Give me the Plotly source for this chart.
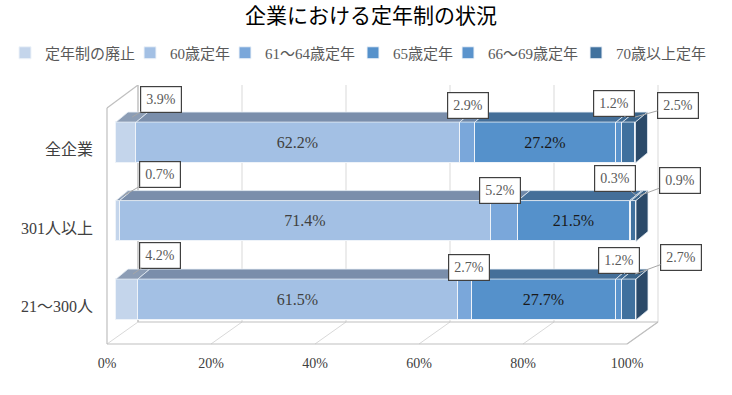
import numpy as np
import plotly.graph_objects as go

# ---------------- data ----------------
categories = ["全企業", "301人以上", "21～300人"]
series_names = ["定年制の廃止", "60歳定年", "61～64歳定年", "65歳定年", "66～69歳定年", "70歳以上定年"]
abolished = [3.9, 0.7, 4.2]
age60 = [62.2, 71.4, 61.5]
age61_64 = [2.9, 5.2, 2.7]
age65 = [27.2, 21.5, 27.7]
age66_69 = [1.2, 0.3, 1.2]
age70plus = [2.5, 0.9, 2.7]
x_ticks = [0, 20, 40, 60, 80, 100]
title_text = "企業における定年制の状況"

series_values = [abolished, age60, age61_64, age65, age66_69, age70plus]

# ---------------- styles ----------------
FONT = "Liberation Serif, 'Noto Sans CJK JP', serif"
front_colors = ["#c4d5eb", "#a3c0e4", "#7aa7da", "#5591cb", "#5a93cc", "#40719e"]
top_colors = ["#8c9db5", "#7a8eab", "#6d87a8", "#446f99", "#3f6a93", "#3b6489"]
side_color = "#2b4a69"
inside_label_colors = [None, "#404040", None, "#1a1a1a", None, None]

# legend entry text start (px) for each series, single row
legend_text_px = [45, 170, 265, 393, 488, 616]
LEGEND_Y_PX = 53

# geometry (pixel scales of the plot area)
PX_X = 5.2        # px per percent on bar front face
PX_Y = 78.5       # px per category step
BAR_W = 0.52      # bar thickness in category units
BAR_DX = 12 / PX_X
BAR_DY = 10 / PX_Y
FRAME_DX = 31 / PX_X
FRAME_DY = 22 / PX_Y
FLOOR_SHIFT = 9 / PX_X   # front floor 0% sits left of bar 0%
LABEL_SHIFT = 7.0 / PX_Y

# callout offsets (pixels) for the small segments: (series index) -> per category (ax, ay)
callout_series = [0, 2, 4, 5]
callout_offsets = {
    0: [(29, -18), (36, -21), (27, -19)],
    2: [(-5, -12), (-10, -5), (-2, -7)],
    4: [(-11, -14), (-22, -17), (-6, -14)],
    5: [(43, -12), (40, -15), (46, -17)],
}

ML, MR, MT, MB = 100, 32, 85, 50
W, H = 732, 395
plot_w = W - ML - MR
plot_h = H - MT - MB

n = len(categories)
ypos = np.arange(n)[::-1].astype(float)  # top category first
vals = np.array(series_values, dtype=float)  # (series, cat)
cum = np.vstack([np.zeros(n), np.cumsum(vals, axis=0)])  # (series+1, cat)

x_range = [(ML - 116) / PX_X, (ML - 116) / PX_X + plot_w / PX_X]
y_center_top_px = 142.5  # pixel of top category center (absolute)
y_top = (n - 1) + (y_center_top_px - MT) / PX_Y
y_range = [y_top - plot_h / PX_Y, y_top]

fig = go.Figure()

# top faces
for s in range(len(series_names)):
    xs, ys = [], []
    for c in range(n):
        x0, x1 = cum[s, c], cum[s + 1, c]
        yt = ypos[c] + BAR_W / 2
        xs += [x0, x1, x1 + BAR_DX, x0 + BAR_DX, x0, None]
        ys += [yt, yt, yt + BAR_DY, yt + BAR_DY, yt, None]
    fig.add_trace(go.Scatter(x=xs, y=ys, mode="lines", fill="toself",
                             fillcolor=top_colors[s], line=dict(color="#e6edf5", width=0.8),
                             showlegend=False, hoverinfo="skip"))

# right side faces
xs, ys = [], []
for c in range(n):
    xe = cum[-1, c]
    yb, yt = ypos[c] - BAR_W / 2, ypos[c] + BAR_W / 2
    xs += [xe, xe, xe + BAR_DX, xe + BAR_DX, xe, None]
    ys += [yb, yt, yt + BAR_DY, yb + BAR_DY, yb, None]
fig.add_trace(go.Scatter(x=xs, y=ys, mode="lines", fill="toself", fillcolor=side_color,
                         line=dict(color="#e6edf5", width=0.8), showlegend=False, hoverinfo="skip"))

# front faces (each series gets its own single-entry legend so the row never wraps)
legend_layouts = {}
for s, name in enumerate(series_names):
    texts = [f"{v:.1f}%" if v >= 10 else "" for v in vals[s]]
    lg = "legend" if s == 0 else f"legend{s + 1}"
    fig.add_trace(go.Bar(
        y=ypos, x=vals[s], orientation="h", name=name, width=BAR_W, legend=lg,
        marker=dict(color=front_colors[s], line=dict(color="#eef3f9", width=1)),
        text=texts, textposition="inside", insidetextanchor="middle",
        textfont=dict(family=FONT, size=16, color=inside_label_colors[s] or "#404040"),
        hoverinfo="skip", constraintext="none",
    ))
    legend_layouts[lg] = dict(
        orientation="h", xref="container", x=(legend_text_px[s] - 40) / W, xanchor="left",
        yref="container", y=1 - LEGEND_Y_PX / H, yanchor="middle",
        font=dict(family=FONT, size=15, color="#595959"), itemwidth=30, borderwidth=0,
        bgcolor="rgba(0,0,0,0)",
    )

# dummy trace to anchor the overlay axes
fig.add_trace(go.Scatter(x=[None], y=[None], xaxis="x2", yaxis="y2", showlegend=False, hoverinfo="skip"))

# 3D frame (floor, walls, gridlines) in x2 / y units
y_ff = -(344 - (y_center_top_px + (n - 1) * PX_Y)) / PX_Y
y_bf = y_ff + FRAME_DY
y_wall_front_top = (n - 1) + (y_center_top_px - 108) / PX_Y
shapes = []
grid_col, edge_col = "#d9d9d9", "#bfbfbf"
for t in x_ticks:
    shapes.append(dict(type="line", xref="x2", yref="y", x0=t, y0=y_ff, x1=t + FRAME_DX, y1=y_bf,
                       line=dict(color=grid_col, width=1), layer="below"))
    shapes.append(dict(type="line", xref="x2", yref="y", x0=t + FRAME_DX, y0=y_bf, x1=t + FRAME_DX, y1=y_top,
                       line=dict(color=grid_col, width=1), layer="below"))
x_lo, x_hi = x_ticks[0], x_ticks[-1]
frame_lines = [
    (x_lo, y_ff, x_hi, y_ff),
    (x_lo + FRAME_DX, y_bf, x_hi + FRAME_DX, y_bf),
    (x_lo, y_ff, x_lo, y_wall_front_top),
    (x_lo, y_wall_front_top, x_lo + FRAME_DX, y_top),
    (x_lo + FRAME_DX, y_bf, x_lo + FRAME_DX, y_top),
    (x_hi, y_ff, x_hi + FRAME_DX, y_bf),
]
for x0, y0, x1, y1 in frame_lines:
    shapes.append(dict(type="line", xref="x2", yref="y", x0=x0, y0=y0, x1=x1, y1=y1,
                       line=dict(color=edge_col, width=1.2), layer="below"))

# callout annotations
annotations = []
for s in callout_series:
    for c in range(n):
        xc = cum[s, c] + vals[s, c] / 2 + BAR_DX / 2
        yc = ypos[c] + BAR_W / 2 + BAR_DY / 2
        ax, ay = callout_offsets[s][c]
        annotations.append(dict(
            x=xc, y=yc, xref="x", yref="y", ax=ax, ay=ay,
            text=f"{vals[s, c]:.1f}%", showarrow=True, arrowhead=0, arrowwidth=1,
            arrowcolor="#a6a6a6", bgcolor="white", bordercolor="#404040", borderwidth=1.2,
            borderpad=5, font=dict(family=FONT, size=14, color="#595959"),
        ))

fig.update_layout(
    width=W, height=H,
    margin=dict(l=ML, r=MR, t=MT, b=MB),
    paper_bgcolor="white", plot_bgcolor="white",
    barmode="stack", bargap=0,
    font=dict(family=FONT, color="#404040"),
    title=dict(text=title_text, x=371 / W, xanchor="center", y=1 - 16 / H, yanchor="middle",
               font=dict(family=FONT, size=21, color="#000000")),
    xaxis=dict(range=x_range, visible=False, fixedrange=True),
    yaxis=dict(range=y_range, visible=False, fixedrange=True),
    xaxis2=dict(range=[x_range[0] + FLOOR_SHIFT, x_range[1] + FLOOR_SHIFT], overlaying="x", anchor="y2",
                side="bottom", tickvals=x_ticks, ticktext=[f"{t}%" for t in x_ticks],
                showgrid=False, zeroline=False, showline=False, ticks="",
                ticklabelstandoff=8, tickfont=dict(family=FONT, size=14, color="#404040")),
    yaxis2=dict(range=[y_range[0] + LABEL_SHIFT, y_range[1] + LABEL_SHIFT], overlaying="y", anchor="x2",
                side="left", tickvals=list(ypos), ticktext=categories,
                showgrid=False, zeroline=False, showline=False, ticks="",
                ticklabelstandoff=6, tickfont=dict(family=FONT, size=16, color="#404040")),
    shapes=shapes,
    annotations=annotations,
    **legend_layouts,
)

fig.write_html("out.html", config={"displayModeBar": False},
               post_script="document.body.style.margin='0';")
